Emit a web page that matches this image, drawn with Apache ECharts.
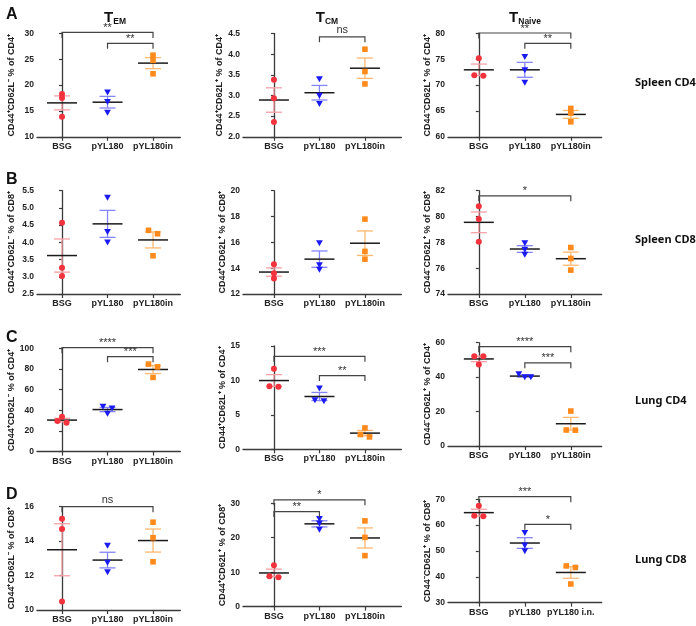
<!DOCTYPE html>
<html><head><meta charset="utf-8">
<script src="https://cdn.jsdelivr.net/npm/echarts@6/dist/echarts.min.js"></script>
<style>html,body{margin:0;padding:0;background:#fff}#c{width:696px;height:626px}</style>
</head><body><div id="c"></div>
<script>
// ---------- categories ----------
const groups = ['BSG', 'pYL180', 'pYL180in'];
const groupsLungCD8Naive = ['BSG', 'pYL180', 'pYL180 i.n.'];
const columnTitles = ['EM', 'CM', 'Naive'];
const rowLabels = ['Spleen CD4', 'Spleen CD8', 'Lung CD4', 'Lung CD8'];
const panelLetters = ['A', 'B', 'C', 'D'];

// ---------- values: [BSG], [pYL180], [pYL180in] (3 mice each) ----------
const spleenCD4_TEM    = [[18.3, 17.5, 13.9], [18.6, 16.8, 14.7], [25.8, 24.8, 22.2]];
const spleenCD4_TCM    = [[3.38, 2.93, 2.36], [3.40, 3.00, 2.80], [4.12, 3.58, 3.28]];
const spleenCD4_TNaive = [[75.2, 71.9, 71.8], [75.5, 72.9, 70.5], [65.5, 64.6, 62.9]];
const spleenCD8_TEM    = [[4.57, 3.26, 3.02], [5.30, 4.31, 4.00], [4.35, 4.25, 3.61]];
const spleenCD8_TCM    = [[14.3, 13.6, 13.2], [15.95, 14.25, 13.9], [17.8, 15.3, 14.7]];
const spleenCD8_TNaive = [[80.8, 79.8, 78.05], [77.95, 77.45, 77.05], [77.6, 76.75, 75.85]];
const lungCD4_TEM      = [[33.8, 28.0, 29.7], [43.5, 41.8, 36.8], [84.7, 82.0, 71.8]];
const lungCD4_TCM      = [[11.7, 9.15, 9.1], [8.85, 7.15, 7.0], [3.1, 2.15, 1.8]];
const lungCD4_TNaive   = [[52.2, 52.1, 47.4], [41.8, 40.0, 40.0], [20.3, 9.2, 9.3]];
const lungCD8_TEM      = [[15.3, 14.7, 10.5], [13.75, 12.75, 12.2], [15.1, 14.2, 12.8]];
const lungCD8_TCM      = [[12.0, 8.5, 8.8], [25.5, 24.2, 22.4], [24.9, 20.1, 14.8]];
const lungCD8_TNaive   = [[67.5, 63.6, 63.4], [57.0, 52.2, 50.0], [44.2, 43.6, 37.2]];

// ---------- y axis ticks: [min, max, interval] ----------
const ticksSpleenCD4 = [[10, 30, 5], [2.0, 4.5, 0.5], [60, 80, 5]];
const ticksSpleenCD8 = [[2.5, 5.5, 0.5], [12, 20, 2], [74, 82, 2]];
const ticksLungCD4   = [[0, 100, 20], [0, 15, 5], [0, 60, 20]];
const ticksLungCD8   = [[10, 16, 2], [0, 30, 10], [30, 70, 10]];

// ---------- significance brackets: [fromGroup, toGroup, value, label] ----------
const sigSpleenCD4_TEM    = [[0, 2, 30.2, '**'], [1, 2, 28.1, '**']];
const sigSpleenCD4_TCM    = [[1, 2, 4.42, 'ns']];
const sigSpleenCD4_TNaive = [[0, 2, 80.1, '**'], [1, 2, 78.1, '**']];
const sigSpleenCD8_TEM    = [];
const sigSpleenCD8_TCM    = [];
const sigSpleenCD8_TNaive = [[0, 2, 81.6, '*']];
const sigLungCD4_TEM      = [[0, 2, 100.6, '****'], [1, 2, 91.9, '***']];
const sigLungCD4_TCM      = [[0, 2, 13.5, '***'], [1, 2, 10.7, '**']];
const sigLungCD4_TNaive   = [[0, 2, 57.7, '****'], [1, 2, 48.3, '***']];
const sigLungCD8_TEM      = [[0, 2, 16.0, 'ns']];
const sigLungCD8_TCM      = [[0, 2, 31.0, '*'], [0, 1, 27.6, '**']];
const sigLungCD8_TNaive   = [[0, 2, 71.0, '***'], [1, 2, 60.3, '*']];

// ---------- y axis names ----------
const yNamesCD4 = ['CD44\u207ACD62L\u207B % of CD4\u207A', 'CD44\u207ACD62L\u207A % of CD4\u207A', 'CD44\u207BCD62L\u207A % of CD4\u207A'];
const yNamesCD8 = ['CD44\u207ACD62L\u207B % of CD8\u207A', 'CD44\u207ACD62L\u207A % of CD8\u207A', 'CD44\u207BCD62L\u207A % of CD8\u207A'];

// ---------- assemble ----------
const rowsData  = [[spleenCD4_TEM, spleenCD4_TCM, spleenCD4_TNaive],
                   [spleenCD8_TEM, spleenCD8_TCM, spleenCD8_TNaive],
                   [lungCD4_TEM, lungCD4_TCM, lungCD4_TNaive],
                   [lungCD8_TEM, lungCD8_TCM, lungCD8_TNaive]];
const rowsTicks = [ticksSpleenCD4, ticksSpleenCD8, ticksLungCD4, ticksLungCD8];
const rowsSig   = [[sigSpleenCD4_TEM, sigSpleenCD4_TCM, sigSpleenCD4_TNaive],
                   [sigSpleenCD8_TEM, sigSpleenCD8_TCM, sigSpleenCD8_TNaive],
                   [sigLungCD4_TEM, sigLungCD4_TCM, sigLungCD4_TNaive],
                   [sigLungCD8_TEM, sigLungCD8_TCM, sigLungCD8_TNaive]];
const rowsYNames = [yNamesCD4, yNamesCD8, yNamesCD4, yNamesCD8];

// layout (pixels)
const colLayout = [
  { left: 37,  xMin: -0.55, xMax: 2.6,  unit: 45.5, nameGap: 21 },
  { left: 243, xMin: -0.68, xMax: 2.8,  unit: 45.5, nameGap: 16 },
  { left: 448, xMin: -0.67, xMax: 2.67, unit: 46,   nameGap: 15 }
];
const rowTops = [[33.5, 33.5, 33.5], [190.7, 190.7, 190.7], [348.3, 346, 342.7], [506.7, 503.3, 499.3]];
const plotH = 103.3;

const pointColors = ['#f2323c', '#1a1af2', '#ff8a1c'];
const barColors   = ['#f6a0a6', '#8585ff', '#ffb870'];
const axisColor = '#3a3a3a';
const FONT = '"Liberation Sans", Arial, sans-serif';

function meanSem(v) {
  const n = v.length;
  const m = v.reduce((a, b) => a + b, 0) / n;
  const sd = Math.sqrt(v.reduce((a, b) => a + (b - m) * (b - m), 0) / (n - 1));
  return [m, sd / Math.sqrt(n)];
}
function decimals(step) { return step < 1 ? 1 : 0; }

function renderSummary(params, api) {
  const gi = api.value(0), m = api.value(1), s = api.value(2);
  const c = api.coord([gi, m]);
  const top = api.coord([gi, m + s]);
  const bot = api.coord([gi, m - s]);
  const col = barColors[gi];
  const ls = { stroke: col, lineWidth: 1.3 };
  return {
    type: 'group',
    children: [
      { type: 'line', shape: { x1: c[0], y1: top[1], x2: c[0], y2: bot[1] }, style: ls },
      { type: 'line', shape: { x1: c[0] - 8, y1: top[1], x2: c[0] + 8, y2: top[1] }, style: ls },
      { type: 'line', shape: { x1: c[0] - 8, y1: bot[1], x2: c[0] + 8, y2: bot[1] }, style: ls },
      { type: 'line', shape: { x1: c[0] - 15, y1: c[1], x2: c[0] + 15, y2: c[1] }, style: { stroke: '#1a1a1a', lineWidth: 1.5 } }
    ]
  };
}

function renderPoints(params, api) {
  const gi = api.value(0);
  const pts = [1, 2, 3].map(k => api.coord([gi, api.value(k)]));
  const order = [0, 1, 2].sort((a, b) => pts[a][1] - pts[b][1]);
  const offs = [0, 0, 0];
  const clusters = [];
  let cur = [order[0]];
  for (let k = 1; k < 3; k++) {
    if (pts[order[k]][1] - pts[order[k - 1]][1] < 3.5) cur.push(order[k]);
    else { clusters.push(cur); cur = [order[k]]; }
  }
  clusters.push(cur);
  clusters.forEach(cl => {
    if (cl.length === 2) { offs[cl[0]] = -4.5; offs[cl[1]] = 4.5; }
    else if (cl.length === 3) { offs[cl[0]] = -6; offs[cl[1]] = 0; offs[cl[2]] = 6; }
  });
  const col = pointColors[gi];
  const children = pts.map((p, i) => {
    const x = p[0] + offs[i], y = p[1];
    if (gi === 0) return { type: 'circle', shape: { cx: x, cy: y, r: 3 }, style: { fill: col } };
    if (gi === 1) return { type: 'polygon', shape: { points: [[x - 3.4, y - 2.8], [x + 3.4, y - 2.8], [x, y + 3.2]] }, style: { fill: col } };
    return { type: 'rect', shape: { x: x - 2.8, y: y - 2.8, width: 5.6, height: 5.6 }, style: { fill: col } };
  });
  return { type: 'group', children };
}

function makeRenderBracket(sig) {
  return function (params, api) {
    const b = sig[params.dataIndex];
    const p1 = api.coord([api.value(0), api.value(2)]);
    const p2 = api.coord([api.value(1), api.value(2)]);
    const y = p1[1], drop = 5.5;
    const isNs = b[3] === 'ns';
    return {
      type: 'group',
      children: [
        { type: 'polyline', shape: { points: [[p1[0], y + drop], [p1[0], y], [p2[0], y], [p2[0], y + drop]] },
          style: { stroke: '#444', lineWidth: 1.2, fill: null } },
        { type: 'text', x: (p1[0] + p2[0]) / 2, y: isNs ? y - 1.5 : y + 1,
          style: { text: b[3], align: 'center', verticalAlign: 'bottom', textAlign: 'center', textVerticalAlign: 'bottom',
                   fontSize: 11, fontFamily: FONT, fill: '#333' } }
      ]
    };
  };
}

const grids = [], xAxes = [], yAxes = [], series = [];
let idx = 0;
for (let r = 0; r < 4; r++) {
  for (let c = 0; c < 3; c++) {
    const L = colLayout[c];
    const data = rowsData[r][c];
    const [ymin, ymax, step] = rowsTicks[r][c];
    const labels = (r === 3 && c === 2) ? groupsLungCD8Naive : groups;
    const dec = decimals(step);
    grids.push({ left: L.left, top: rowTops[r][c], width: (L.xMax - L.xMin) * L.unit, height: plotH, outerBoundsMode: 'none' });
    xAxes.push({
      gridIndex: idx, type: 'value', min: L.xMin, max: L.xMax,
      axisLine: { show: true, onZero: false, lineStyle: { color: axisColor, width: 1.3 } },
      axisTick: { show: true, customValues: [0, 1, 2], length: 4, lineStyle: { color: axisColor, width: 1.2 } },
      axisLabel: { customValues: [0, 1, 2], formatter: v => labels[Math.round(v)] || '', fontSize: 9, fontWeight: 'bold',
                   fontFamily: FONT, color: '#222', margin: 5 },
      splitLine: { show: false }
    });
    yAxes.push({
      gridIndex: idx, type: 'value', min: ymin, max: ymax, interval: step,
      axisLine: { show: true, lineStyle: { color: axisColor, width: 1.3 } },
      axisTick: { show: true, length: 3, lineStyle: { color: axisColor, width: 1.2 } },
      axisLabel: { formatter: v => v.toFixed(dec), fontSize: 8.5, fontWeight: 'bold', fontFamily: FONT, color: '#222', margin: 3 },
      splitLine: { show: false },
      name: rowsYNames[r][c], nameLocation: 'middle', nameRotate: 90, nameGap: L.nameGap,
      nameTextStyle: { fontSize: 9, fontWeight: 'bold', fontFamily: FONT, color: '#222' }
    });
    const summary = data.map((v, gi) => { const ms = meanSem(v); return [gi, ms[0], ms[1]]; });
    series.push({
      type: 'custom', xAxisIndex: idx, yAxisIndex: idx, clip: false, silent: true,
      encode: { x: 0, y: 1 }, data: summary, renderItem: renderSummary, z: 2
    });
    series.push({
      type: 'custom', xAxisIndex: idx, yAxisIndex: idx, clip: false, silent: true,
      encode: { x: 0, y: [1, 2, 3] }, data: data.map((v, gi) => [gi].concat(v)), renderItem: renderPoints, z: 3
    });
    const sig = rowsSig[r][c];
    if (sig.length) {
      series.push({
        type: 'custom', xAxisIndex: idx, yAxisIndex: idx, clip: false, silent: true,
        encode: { x: [0, 1], y: 2 }, data: sig.map(b => [b[0], b[1], b[2]]), renderItem: makeRenderBracket(sig), z: 4
      });
    }
    idx++;
  }
}

const titles = [];
const titleX = [110, 322, 520];
columnTitles.forEach((s, i) => titles.push({
  text: '{t|T}{s|' + s + '}', left: titleX[i], top: 5, textAlign: 'center',
  textStyle: { rich: { t: { fontSize: 15, fontWeight: 'bold', fontFamily: FONT, color: '#111' },
                       s: { fontSize: 8.5, fontWeight: 'bold', fontFamily: FONT, color: '#111', verticalAlign: 'bottom', padding: [0, 0, -1, 0] } } }
}));
const letterTops = [2, 167, 325, 482];
panelLetters.forEach((s, i) => titles.push({
  text: s, left: 1, top: letterTops[i],
  textStyle: { fontSize: 16, fontWeight: 'bold', fontFamily: FONT, color: '#111' }
}));
const rowLabelTops = [72, 229, 390, 549];
rowLabels.forEach((s, i) => titles.push({
  text: s, left: 630, top: rowLabelTops[i],
  textStyle: { fontSize: 11, fontWeight: 'bold', fontFamily: '"Noto Sans", sans-serif', color: '#111' }
}));

const chart = echarts.init(document.getElementById('c'), null, { renderer: 'canvas' });
chart.setOption({
  animation: false,
  backgroundColor: '#fff',
  title: titles,
  grid: grids, xAxis: xAxes, yAxis: yAxes, series
});
</script></body></html>
